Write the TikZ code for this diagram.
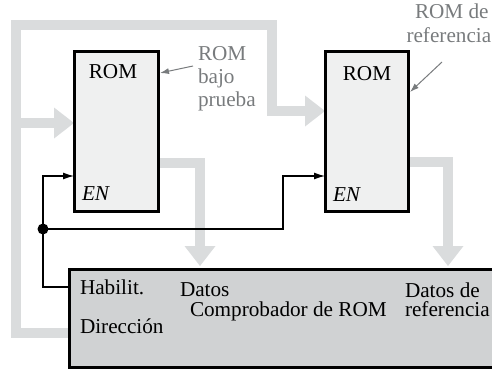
\documentclass[tikz,border=0pt]{standalone}
\usepackage{fontspec}
\setmainfont{Liberation Serif}
\newfontfamily\tnrfont{Liberation Serif}
\usetikzlibrary{arrows.meta,backgrounds}
\definecolor{busgray}{RGB}{218,220,221}
\definecolor{romfill}{RGB}{239,240,240}
\definecolor{compfill}{RGB}{208,210,211}
\definecolor{labelgray}{RGB}{120,123,125}
\begin{document}
\begin{tikzpicture}[x=1pt,y=-1pt,
 every node/.style={font=\tnrfont\fontsize{21.2}{24}\selectfont, inner sep=0pt, outer sep=0pt},
 rombox/.style={draw=black, fill=romfill, line width=3pt, minimum width=84pt, minimum height=159pt},
 compbox/.style={draw=black, fill=compfill, line width=3pt, minimum width=450pt, minimum height=98pt},
 bus/.style={draw=busgray, line width=10.5pt, line join=miter},
 bustip/.style={-{Triangle[length=20pt,width=31pt,line width=0pt]}},
 wire/.style={draw=black, line width=1.2pt},
 wiretip/.style={-{Latex[length=11pt,width=7pt]}},
 lbl/.style={text=labelgray, anchor=base west},
 lblarrow/.style={draw=labelgray, line width=1pt, -{Latex[length=9pt,width=6pt]}},
 txt/.style={anchor=base west},
 ctxt/.style={anchor=base},
 dot/.style={circle, fill=black, minimum size=11pt}
]
\useasboundingbox (0,0) rectangle (492,369);
% boxes
\node[rombox] (romL) at (116,131.5) {};
\node[rombox, minimum width=83pt] (romR) at (366.5,131.5) {};
\node[compbox] (comp) at (294,318) {};
% bus coordinates
\coordinate (bl) at (16,333);
\coordinate (tl) at (16,25);
\coordinate (tr) at (272,25);
\coordinate (rd) at (272,111);
\coordinate (brL) at (16,123);
\coordinate (dl1) at (200,163);
\coordinate (dr1) at (448,162);
\begin{scope}[on background layer]
\draw[bus, bustip] (comp.west |- bl) -- (bl) -- (tl) -- (tr) -- (rd) -- (romR.west |- rd);
\draw[bus, bustip] (brL) -- (romL.west |- brL);
\draw[bus, bustip] (romL.east |- dl1) -- (dl1) -- ([yshift=3pt]dl1 |- comp.north);
\draw[bus, bustip] (romR.east |- dr1) -- (dr1) -- ([yshift=3pt]dr1 |- comp.north);
\end{scope}
% enable wires
\node[dot] (j) at (43,229) {};
\coordinate (wl) at (43,176);
\coordinate (wr1) at (283,229);
\coordinate (wr2) at (283,176);
\coordinate (wd) at (43,287);
\draw[wire, wiretip] (j.center) -- (wl) -- (romL.west |- wl);
\draw[wire, wiretip] (j.center) -- (wr1) -- (wr2) -- (romR.west |- wr2);
\draw[wire] (j.center) -- (wd) -- (comp.west |- wd);
% texts in ROM boxes
\node[ctxt] (romLt) at (113,78) {ROM};
\node[ctxt] (romRt) at (367,80) {ROM};
\node[txt] (enL) at (82,200) {\itshape EN};
\node[txt] (enR) at (333,201.5) {\itshape EN};
% gray labels
\node[lbl] (la) at (198,60) {ROM};
\node[lbl] (lb) at (198,83.5) {bajo};
\node[lbl] (lc) at (198,106.5) {prueba};
\node[lbl] (ra) at (415,19) {ROM de};
\node[lbl] (rb) at (406.5,42) {referencia};
\coordinate (la1) at (193,66);
\coordinate (ra1) at (442,62);
\draw[lblarrow] (la1) -- ([xshift=2pt]romL.east |- 0,73);
\draw[lblarrow] (ra1) -- ([xshift=2pt]romR.east |- 0,92);
% texts in checker
\node[txt] (hab) at (80,294) {Habilit.};
\node[txt] (dat) at (180,296) {Datos};
\node[txt] (cmp) at (190,316.5) {Comprobador de ROM};
\node[txt] (dref1) at (405,297) {Datos de};
\node[txt] (dref2) at (405,316.5) {referencia};
\node[txt] (dir) at (80,333) {Dirección};
\end{tikzpicture}
\end{document}
